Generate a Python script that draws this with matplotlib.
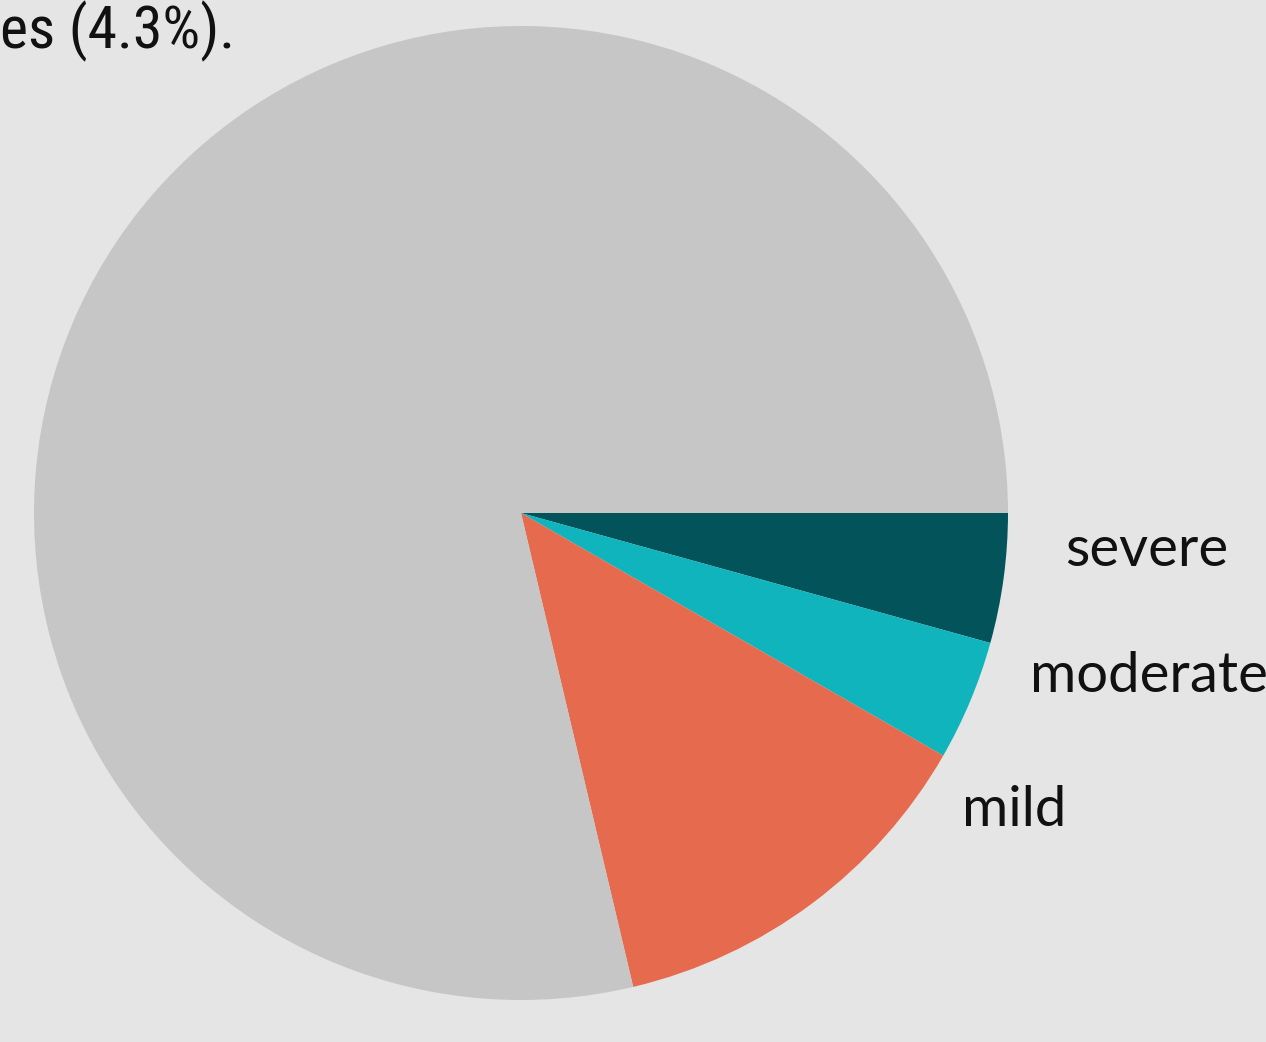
import matplotlib
matplotlib.use("Agg")
import matplotlib.pyplot as plt
from matplotlib import font_manager

# Share of cases by severity (percent)
categories = ["none", "mild", "moderate", "severe"]
shares = [78.7, 13.0, 4.0, 4.3]
labels = ["", "mild", "moderate", "severe"]
colors = ["#c6c6c6", "#e66b4e", "#10b4bc", "#03535b"]

BG = "#e5e5e5"
INK = "#111111"

W, H = 1266, 1042
fig = plt.figure(figsize=(W / 100, H / 100), dpi=100, facecolor=BG)

# pie occupies a square of ~974 px centred at (521, 513)
cx, cy, r = 521, 513, 487
ax = fig.add_axes([(cx - r) / W, (H - cy - r) / H, 2 * r / W, 2 * r / H])
ax.set_facecolor(BG)

# draw clockwise from 3 o'clock, ending with severe just below the horizontal
order = [3, 2, 1, 0]
wedges, _ = ax.pie([shares[i] for i in order],
                   colors=[colors[i] for i in order],
                   startangle=0, counterclock=False)
ax.set_xlim(-1, 1)
ax.set_ylim(-1, 1)
ax.set_aspect("equal")
ax.axis("off")

# labels sit to the right of the pie, stacked
label_pos = {"severe": (1.117, -0.078), "moderate": (1.045, -0.335), "mild": (0.906, -0.61)}
for name, (lx, ly) in label_pos.items():
    ax.text(lx, ly, name, fontsize=40.5, family=["Lato", "DejaVu Sans"], color=INK,
            ha="left", va="center", clip_on=False)

avail = {f.name for f in font_manager.fontManager.ttflist}
title_font = "Roboto"
for cand in ("Roboto Condensed", "Liberation Sans Narrow"):
    if cand in avail:
        title_font = cand
        break
fig.text(0.0, 1 - 48 / H, "es (4.3%).", fontsize=43, family=[title_font, "DejaVu Sans"],
         color=INK, ha="left", va="baseline")

fig.savefig("out.png", dpi=100, facecolor=BG)
